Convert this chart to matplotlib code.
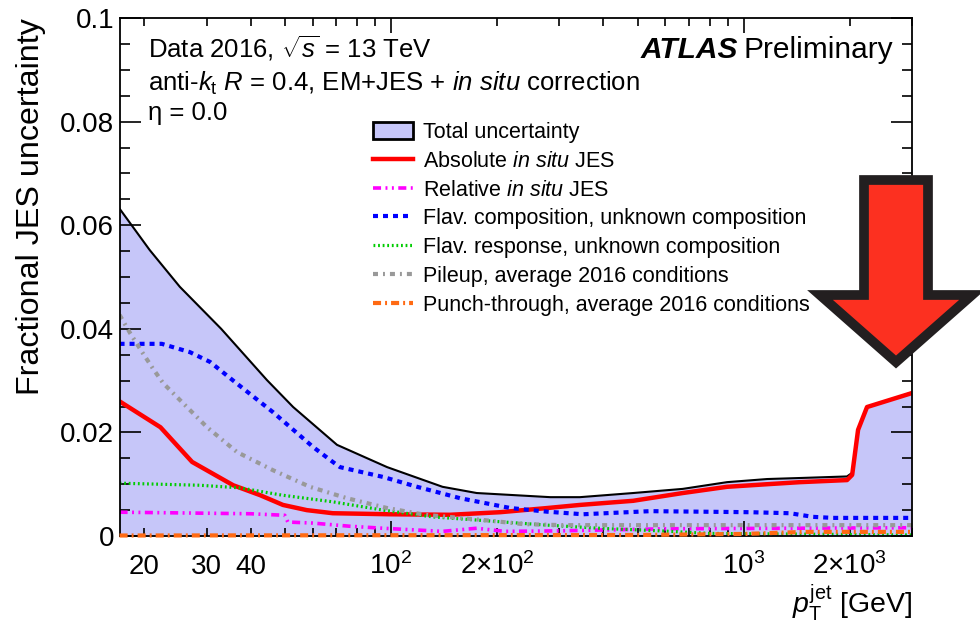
import matplotlib
matplotlib.use('Agg')
import matplotlib.pyplot as plt
from matplotlib.patches import Patch, Polygon
from matplotlib.ticker import FixedLocator, FixedFormatter, MultipleLocator

plt.rcParams['font.family'] = ['Liberation Sans', 'DejaVu Sans']
plt.rcParams['mathtext.fontset'] = 'custom'
plt.rcParams['mathtext.rm'] = 'Liberation Sans'
plt.rcParams['mathtext.it'] = 'Liberation Sans:italic'
plt.rcParams['mathtext.bf'] = 'Liberation Sans:bold'
plt.rcParams['lines.scale_dashes'] = False

# --- data (pT in GeV, fractional uncertainty) ---
pt_total = [17, 20.7, 25.2, 33, 44.5, 52.8, 70.3, 97.5, 140, 175, 283, 343, 486, 672,
            897, 1165, 1445, 1963, 2030, 2110, 2237, 3000]
total = [0.0632, 0.0552, 0.0481, 0.0400, 0.0301, 0.0249, 0.0176, 0.0133, 0.0095, 0.0083,
         0.0075, 0.0075, 0.0083, 0.0091, 0.0104, 0.0110, 0.0112, 0.0115, 0.0122, 0.0205,
         0.0249, 0.0277]

pt_abs = [17, 22.2, 27.3, 35.7, 42.5, 49.4, 57.7, 68.4, 99.4, 147, 204, 277, 343, 486, 672,
          897, 1165, 1445, 1963, 2030, 2110, 2237, 3000]
abs_insitu = [0.0260, 0.0210, 0.0143, 0.0098, 0.0079, 0.0060, 0.0050, 0.0044, 0.0042, 0.0041,
              0.0046, 0.0054, 0.0060, 0.0068, 0.0083, 0.0095, 0.0100, 0.0104, 0.0108, 0.0118,
              0.0205, 0.0249, 0.0276]

pt_rel = [17, 40, 50, 51, 60, 76, 95, 140, 175, 210, 300, 600, 3000]
rel_insitu = [0.0046, 0.0043, 0.0040, 0.0027, 0.0025, 0.0019, 0.0015, 0.0009, 0.0015, 0.0009,
              0.0010, 0.0014, 0.0016]

pt_flavcomp = [17, 22.4, 26.9, 30.7, 35.7, 46.3, 60.1, 68.4, 71.7, 95, 118.6, 157, 218, 277,
               350, 543, 1040, 1352, 1571, 1789, 3000]
flav_comp = [0.0371, 0.0371, 0.0355, 0.0336, 0.0300, 0.0239, 0.0172, 0.0143, 0.0133, 0.0114,
             0.0095, 0.0073, 0.0054, 0.0047, 0.0042, 0.0048, 0.0046, 0.0044, 0.0037, 0.0035,
             0.0035]

pt_flavresp = [17, 28.7, 37.3, 49, 68.4, 95, 131, 182, 277, 390, 578, 800, 3000]
flav_resp = [0.0102, 0.0098, 0.0093, 0.0079, 0.0066, 0.0050, 0.0037, 0.0030, 0.0021, 0.0015,
             0.0010, 0.0005, 0.0002]

pt_pileup = [17, 18.2, 19.7, 21.1, 22.6, 30.1, 36.6, 46.3, 58.9, 75, 97.5, 125, 182, 237, 307,
             3000]
pileup = [0.0427, 0.0392, 0.0355, 0.0324, 0.0295, 0.0210, 0.0162, 0.0127, 0.0095, 0.0073,
          0.0054, 0.0041, 0.0031, 0.0023, 0.0021, 0.0021]

pt_punch = [17, 500, 1000, 1500, 3000]
punch = [0.0001, 0.0002, 0.0004, 0.0008, 0.0008]

labels = ['Total uncertainty',
          r'Absolute $\mathit{in\ situ}$ JES',
          r'Relative $\mathit{in\ situ}$ JES',
          'Flav. composition, unknown composition',
          'Flav. response, unknown composition',
          'Pileup, average 2016 conditions',
          'Punch-through, average 2016 conditions']

fill_col = '#c6c6f9'

fig = plt.figure(figsize=(9.8, 6.27), dpi=100)
ax = fig.add_axes([0.122, 0.1451, 0.8086, 0.8262])

ax.fill_between(pt_total, 0, total, color=fill_col, lw=0, zorder=1)
ax.plot(pt_total, total, color='black', lw=1.5, zorder=2)

l_abs, = ax.plot(pt_abs, abs_insitu, color='#ff0000', lw=3.2, zorder=2.1)
l_rel, = ax.plot(pt_rel, rel_insitu, color='#ff00ff', lw=2.6,
                 dashes=(5.8, 3.2, 1.4, 3.2, 1.4, 3.2), zorder=2.2)
l_comp, = ax.plot(pt_flavcomp, flav_comp, color='#0000ff', lw=3.0, dashes=(3.6, 3.6), zorder=2.3)
l_resp, = ax.plot(pt_flavresp, flav_resp, color='#00cc00', lw=2.3, dashes=(1.3, 2.0), zorder=2.4)
l_pu, = ax.plot(pt_pileup, pileup, color='#999999', lw=3.0,
                dashes=(3.6, 3.6, 1.4, 3.6), zorder=2.5)
l_pt, = ax.plot(pt_punch, punch, color='#ff6a13', lw=3.0,
                dashes=(5.8, 2.9, 1.4, 2.9), zorder=3, clip_on=False)

ax.set_xscale('log')
ax.set_xlim(17, 3000)
ax.set_ylim(0, 0.1)

# x ticks: labelled decades plus labelled minor values
ax.xaxis.set_major_locator(FixedLocator([100, 1000]))
ax.xaxis.set_major_formatter(FixedFormatter([r'$10^{2}$', r'$10^{3}$']))
minors = [20, 30, 40, 50, 60, 70, 80, 90, 200, 300, 400, 500, 600, 700, 800, 900, 2000, 3000]
minor_lbl = ['20', '30', '40', '', '', '', '', '', r'$2{\times}10^{2}$', '', '', '', '', '', '', '',
             r'$2{\times}10^{3}$', '']
ax.xaxis.set_minor_locator(FixedLocator(minors))
ax.xaxis.set_minor_formatter(FixedFormatter(minor_lbl))

ax.yaxis.set_minor_locator(MultipleLocator(0.005))
ax.set_yticks([0, 0.02, 0.04, 0.06, 0.08, 0.1])
ax.set_yticklabels(['0', '0.02', '0.04', '0.06', '0.08', '0.1'])

ax.tick_params(which='both', direction='in', top=True, right=True, labelsize=20, width=1.2)
ax.tick_params(axis='x', which='major', length=11, pad=27)
ax.tick_params(axis='x', which='minor', length=6, pad=27)
ax.tick_params(axis='y', which='major', length=15, pad=4)
ax.tick_params(axis='y', which='minor', length=7.5)
for t in ax.get_xticklabels(which='both'):
    t.set_verticalalignment('baseline')
for s in ax.spines.values():
    s.set_linewidth(1.3)

ax.set_ylabel('Fractional JES uncertainty', fontsize=23.2, loc='top')
ax.yaxis.set_label_coords(-0.093, 1.0)
ax.set_xlabel(r'$p_{\mathrm{T}}^{\mathrm{jet}}$ [GeV]', fontsize=20.5, loc='right')
ax.xaxis.set_label_coords(1.0, -0.09)

ax.text(0.036, 0.923, r'Data 2016, $\sqrt{s}$ = 13 TeV', transform=ax.transAxes, fontsize=18.5,
        va='baseline')
ax.text(0.036, 0.859, r'anti-$k_{\mathrm{t}}$ $R$ = 0.4, EM+JES + $\mathit{in\ situ}$ correction',
        transform=ax.transAxes, fontsize=18.5, va='baseline')
ax.text(0.036, 0.803, 'η = 0.0', transform=ax.transAxes, fontsize=18.5, va='baseline')
prelim = ax.text(0.976, 0.923, 'Preliminary', transform=ax.transAxes, fontsize=21.5,
                 ha='right', va='baseline')
ax.annotate('ATLAS', xy=(0, 0), xycoords=prelim, xytext=(-4, 0), textcoords='offset points',
            fontsize=21.5, fontweight='bold', fontstyle='italic', ha='right', va='bottom')

handles = [Patch(facecolor=fill_col, edgecolor='black', linewidth=2),
           l_abs, l_rel, l_comp, l_resp, l_pu, l_pt]
ax.legend(handles, labels, loc='upper left', bbox_to_anchor=(373 / 980, 1 - 122 / 627),
          bbox_transform=fig.transFigure, frameon=False, fontsize=15.5, handlelength=1.86,
          handleheight=0.85, handletextpad=0.47, labelspacing=0.36, borderpad=0,
          borderaxespad=0)

# big red arrow pointing down at the high-pT rise
W, H = 980, 627
arrow_px = [(864, 180), (928, 180), (928, 295), (972, 295), (896, 362), (820, 295), (864, 295)]
arrow = Polygon([(x / W, 1 - y / H) for x, y in arrow_px], closed=True,
                transform=fig.transFigure, facecolor='#fc3020', edgecolor='#231f20',
                linewidth=7, joinstyle='miter', zorder=10, clip_on=False)
fig.add_artist(arrow)

fig.savefig('out.png', dpi=100)
